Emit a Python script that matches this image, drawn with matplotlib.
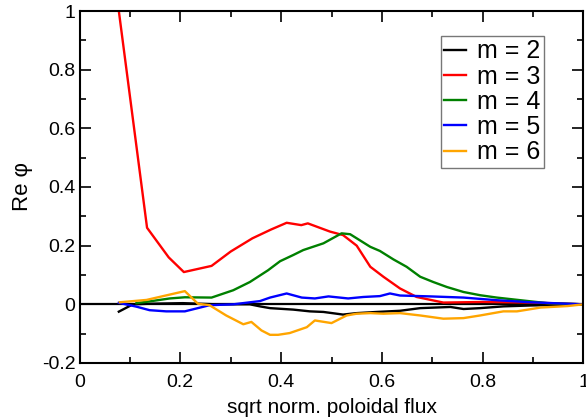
import numpy as np
import matplotlib
matplotlib.use("Agg")
import matplotlib.pyplot as plt
from matplotlib.ticker import MultipleLocator

plt.rcParams['font.family'] = ['Liberation Sans', 'DejaVu Sans']

# m = 2
x2 = [0.078, 0.106, 0.139, 0.205, 0.272, 0.338, 0.358, 0.378, 0.424, 0.457, 0.484, 0.523,
      0.55, 0.59, 0.636, 0.676, 0.736, 0.762, 0.795, 0.841, 0.895, 1.0]
y2 = [-0.025, 0.0, 0.002, 0.004, 0.0, 0.0, -0.007, -0.013, -0.018, -0.024, -0.026, -0.035,
      -0.03, -0.026, -0.022, -0.013, -0.009, -0.016, -0.013, -0.007, -0.004, 0.0]

# m = 3
x3 = [0.078, 0.134, 0.177, 0.207, 0.262, 0.30, 0.343, 0.38, 0.411, 0.44, 0.453, 0.497,
      0.523, 0.55, 0.577, 0.603, 0.636, 0.669, 0.722, 0.8, 0.9, 1.0]
y3 = [1.0, 0.261, 0.16, 0.11, 0.131, 0.18, 0.225, 0.255, 0.278, 0.27, 0.276, 0.248,
      0.236, 0.2, 0.128, 0.094, 0.054, 0.025, 0.006, 0.008, 0.006, 0.0]

# m = 4
x4 = [0.113, 0.139, 0.179, 0.209, 0.262, 0.305, 0.338, 0.374, 0.398, 0.424, 0.444, 0.484,
      0.52, 0.537, 0.577, 0.596, 0.623, 0.649, 0.676, 0.702, 0.729, 0.762, 0.795, 0.828,
      0.875, 0.928, 1.0]
y4 = [0.004, 0.01, 0.02, 0.024, 0.023, 0.048, 0.076, 0.116, 0.147, 0.168, 0.185, 0.208,
      0.242, 0.239, 0.196, 0.182, 0.153, 0.128, 0.094, 0.076, 0.059, 0.042, 0.031, 0.023,
      0.014, 0.004, 0.0]

# m = 5
x5 = [0.078, 0.113, 0.139, 0.172, 0.209, 0.258, 0.305, 0.358, 0.378, 0.411, 0.441, 0.467,
      0.494, 0.533, 0.563, 0.596, 0.616, 0.636, 0.696, 0.762, 0.828, 0.895, 1.0]
y5 = [0.005, -0.008, -0.02, -0.024, -0.024, -0.003, 0.0, 0.011, 0.023, 0.037, 0.023, 0.02,
      0.027, 0.02, 0.025, 0.028, 0.037, 0.03, 0.027, 0.023, 0.014, 0.007, 0.0]

# m = 6
x6 = [0.08, 0.133, 0.209, 0.235, 0.258, 0.291, 0.325, 0.341, 0.361, 0.378, 0.394, 0.417,
      0.451, 0.467, 0.50, 0.53, 0.55, 0.577, 0.603, 0.636, 0.676, 0.722, 0.762, 0.795,
      0.841, 0.868, 0.915, 0.968, 1.0]
y6 = [0.007, 0.015, 0.045, 0.002, -0.003, -0.038, -0.068, -0.06, -0.089, -0.104, -0.104, -0.098,
      -0.078, -0.055, -0.064, -0.038, -0.032, -0.03, -0.032, -0.03, -0.038, -0.049, -0.047, -0.038,
      -0.024, -0.024, -0.011, -0.006, 0.0]

series = [(x2, y2, 'black', 'm = 2'),
          (x3, y3, '#ff0000', 'm = 3'),
          (x4, y4, '#008000', 'm = 4'),
          (x5, y5, '#0000ff', 'm = 5'),
          (x6, y6, '#ffa500', 'm = 6')]

fig = plt.figure(figsize=(5.86, 4.19), dpi=100)
ax = fig.add_axes([0.1357, 0.1337, 0.86, 0.84])

ax.axhline(0, color='black', lw=1.6, zorder=1)
for x, y, c, lab in series:
    ax.plot(x, y, color=c, lw=1.7, label=lab)

ax.set_xlim(0, 1)
ax.set_ylim(-0.2, 1)
ax.xaxis.set_minor_locator(MultipleLocator(0.1))
ax.yaxis.set_minor_locator(MultipleLocator(0.1))
ax.set_xticks([0, 0.2, 0.4, 0.6, 0.8, 1.0])
ax.set_xticklabels(['0', '0.2', '0.4', '0.6', '0.8', '1'])
ax.set_yticks([-0.2, 0, 0.2, 0.4, 0.6, 0.8, 1.0])
ax.set_yticklabels(['-0.2', '0', '0.2', '0.4', '0.6', '0.8', '1'])
ax.tick_params(which='both', direction='in', top=True, right=True, width=1.2, labelsize=14)
ax.tick_params(which='major', length=8)
ax.tick_params(which='minor', length=4)
ax.tick_params(axis='x', which='major', pad=8)
ax.tick_params(axis='y', which='major', pad=3)
for s in ax.spines.values():
    s.set_linewidth(1.5)

ax.set_xlabel('sqrt norm. poloidal flux', fontsize=15, labelpad=5)
ax.set_ylabel('Re \u03c6', fontsize=16, labelpad=6)

leg = ax.legend(loc='upper right', bbox_to_anchor=(0.9216, 0.93), fontsize=18,
                frameon=True, fancybox=False, handlelength=0.85, handletextpad=0.45,
                labelspacing=0.05, borderpad=0.15, borderaxespad=0)
leg.get_frame().set_edgecolor('#555555')
leg.get_frame().set_linewidth(1.0)

fig.savefig('out.png', dpi=100)
